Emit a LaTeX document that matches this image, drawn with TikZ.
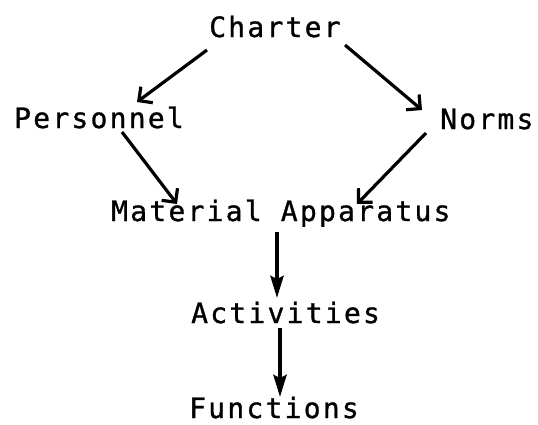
\documentclass[tikz,border=0pt]{standalone}
\usepackage{fontspec}
\usetikzlibrary{arrows.meta,calc}
\newfontfamily\tw[LetterSpace=8,FakeBold=1]{DejaVu Sans Mono}
\begin{document}
\begin{tikzpicture}[x=1pt,y=-1pt,
  lbl/.style={inner sep=0pt,anchor=base west,font=\tw\fontsize{28}{32}\selectfont},
  diag/.style={line width=3.2pt,-{Straight Barb[length=10pt,width=20pt,line width=3.2pt]}},
  vert/.style={line width=4pt,-{Stealth[length=22pt,width=13pt,inset=3pt]}}]
\useasboundingbox (0,0) rectangle (538,424);
\node[lbl] (charter) at (209,37) {Charter};
\node[lbl] (pers) at (14,128) {Personnel};
\node[lbl] (norms) at (440,129) {Norms};
\node[lbl] (mat) at (111,221) {Material Apparatus};
\node[lbl] (act) at (191,323) {Activities};
\node[lbl] (fun) at (189,418) {Functions};
\draw[diag] ($(charter.base west)+(-2,13)$) -- ($(pers.base west)+(123,-26)$);
\draw[diag] ($(charter.base west)+(136,8)$) -- ($(norms.base west)+(-18,-19)$);
\draw[diag] ($(pers.base west)+(108,4)$) -- ($(mat.base west)+(66,-17)$);
\draw[diag] ($(norms.base west)+(-14,4)$) -- ($(mat.base west)+(246,-17)$);
\draw[vert] ($(mat.base west)+(166,11)$) -- ($(act.base west)+(86,-25)$);
\draw[vert] ($(act.base west)+(89,5)$) -- ($(fun.base west)+(91,-21)$);
\end{tikzpicture}
\end{document}
